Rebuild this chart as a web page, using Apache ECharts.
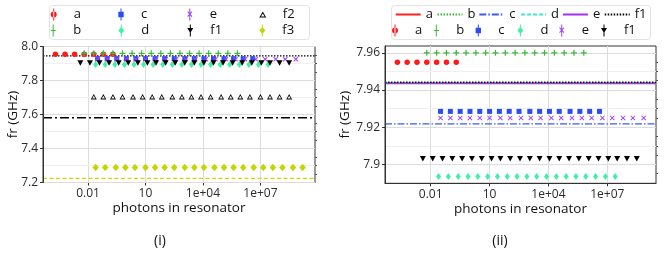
<!DOCTYPE html>
<html><head><meta charset="utf-8">
<script src="https://cdn.jsdelivr.net/npm/echarts@6/dist/echarts.min.js"></script>
<style>html,body{margin:0;padding:0;background:#fff}#c{width:664px;height:253px}</style>
</head><body><div id="c"></div><script>
// ---- data (x values are log10 of photons in resonator) ----
const xTickExp = [-2, 1, 4, 7];
const xTickLabels = ['0.01', '10', '1e+04', '1e+07'];
const yTicksL = [7.2, 7.4, 7.6, 7.8, 8.0];
const yTickLabelsL = ['7.2', '7.4', '7.6', '7.8', '8.0'];
const yMinorGridL = [7.3, 7.5, 7.7, 7.9];
const yMinorTicksL = [7.25, 7.3, 7.35, 7.45, 7.5, 7.55, 7.65, 7.7, 7.75, 7.85, 7.9, 7.95];
const yTicksR = [7.90, 7.92, 7.94, 7.96];
const yTickLabelsR = ['7.9', '7.92', '7.94', '7.96'];
const yMinorGridR = [7.91, 7.93, 7.95];
const yMinorTicksR = [7.895, 7.905, 7.91, 7.915, 7.925, 7.93, 7.935, 7.945, 7.95, 7.955];

const aX = [-3.7, -3.2, -2.7, -2.2, -1.7, -1.2, -0.7];
const aY = [7.955, 7.955, 7.955, 7.955, 7.955, 7.955, 7.955];
const bX = [-2.2, -1.7, -1.2, -0.7, -0.2, 0.3, 0.8, 1.3, 1.8, 2.3, 2.8, 3.3, 3.8, 4.3, 4.8, 5.3, 5.8];
const bY = [7.960, 7.960, 7.960, 7.960, 7.960, 7.960, 7.960, 7.960, 7.960, 7.960, 7.960, 7.960, 7.960, 7.960, 7.960, 7.960, 7.960];
const cX = [-1.5, -1.0, -0.5, 0.0, 0.5, 1.0, 1.5, 2.0, 2.5, 3.05, 3.55, 4.05, 4.55, 5.1, 5.6, 6.1, 6.6];
const cY = [7.9285, 7.9285, 7.9285, 7.9285, 7.9285, 7.9285, 7.9285, 7.9285, 7.9285, 7.9285, 7.9285, 7.9285, 7.9285, 7.9285, 7.9285, 7.9285, 7.9285];
const dX = [-1.6, -1.1, -0.6, -0.1, 0.4, 0.9, 1.4, 1.9, 2.4, 2.9, 3.4, 3.9, 4.4, 4.9, 5.4, 5.9, 6.4, 6.9, 7.4];
const dY = [7.8935, 7.8935, 7.8935, 7.8935, 7.8935, 7.8935, 7.8935, 7.8935, 7.8935, 7.8935, 7.8935, 7.8935, 7.8935, 7.8935, 7.8935, 7.8935, 7.8935, 7.8935, 7.8935];
const eX = [-1.5, -1.0, -0.5, 0.0, 0.5, 1.0, 1.55, 2.05, 2.6, 3.1, 3.6, 4.15, 4.65, 5.2, 5.7, 6.2, 6.75, 7.25, 7.8, 8.3, 8.85];
const eY = [7.925, 7.925, 7.925, 7.925, 7.925, 7.925, 7.925, 7.925, 7.925, 7.925, 7.925, 7.925, 7.925, 7.925, 7.925, 7.925, 7.925, 7.925, 7.925, 7.925, 7.925];
const f1X = [-2.4, -1.9, -1.4, -0.9, -0.4, 0.1, 0.6, 1.1, 1.55, 2.05, 2.55, 3.05, 3.55, 4.05, 4.55, 5.05, 5.55, 6.05, 6.55, 7.05, 7.5, 8.0, 8.5];
const f1Y = [7.903, 7.903, 7.903, 7.903, 7.903, 7.903, 7.903, 7.903, 7.903, 7.903, 7.903, 7.903, 7.903, 7.903, 7.903, 7.903, 7.903, 7.903, 7.903, 7.903, 7.903, 7.903, 7.903];
const f2X = [-1.7, -1.2, -0.7, -0.2, 0.35, 0.85, 1.35, 1.85, 2.4, 2.9, 3.4, 3.9, 4.4, 4.95, 5.45, 5.95, 6.45, 7.0, 7.5, 8.0, 8.5];
const f2Y = [7.705, 7.705, 7.705, 7.705, 7.705, 7.705, 7.705, 7.705, 7.705, 7.705, 7.705, 7.705, 7.705, 7.705, 7.705, 7.705, 7.705, 7.705, 7.705, 7.705, 7.705];
const f3X = [-1.6, -1.1, -0.55, -0.05, 0.45, 1.0, 1.5, 2.0, 2.5, 3.05, 3.55, 4.05, 4.6, 5.1, 5.6, 6.1, 6.65, 7.15, 7.65, 8.15, 8.7, 9.2];
const f3Y = [7.288, 7.288, 7.288, 7.288, 7.288, 7.288, 7.288, 7.288, 7.288, 7.288, 7.288, 7.288, 7.288, 7.288, 7.288, 7.288, 7.288, 7.288, 7.288, 7.288, 7.288, 7.288];

// fitted resonance lines
const lineNamesR = ['a', 'b', 'c', 'd', 'e', 'f1'];
const lineValuesR = [7.9438, 7.9443, 7.9218, 7.9440, 7.9435, 7.9441];
const lineNamesL = ['f1', 'f2', 'f3'];
const lineValuesL = [7.9445, 7.581, 7.224];

// ---- styles ----
const COL = { a: '#ff1a1a', b: '#3cb83c', c: '#2a4cf5', d: '#3ff0a8', e: '#a040f5', f1: '#000000', f2: '#000000', f3: '#c3d600' };
const LCOL = { a: '#ff2020', b: '#3cb83c', c: '#3a5cf0', d: '#40e8c8', e: '#a030f0', f1: '#000000', f2: '#000000', f3: '#c8dc00' };
const LTYPE = { a: 'solid', b: [1.5, 1.5], c: [7, 2, 1.5, 2], d: [4, 2], e: 'solid', f1: [1.5, 1.5], f2: [9, 3, 2, 3], f3: [4, 2.5] };
const SYM = {
  a: ['circle', 5.5],
  b: ['path://M2,0H3V5H2Z M0,2H5V3H0Z', 6],
  c: ['rect', 5],
  d: ['diamond', [5, 7]],
  e: ['path://M0,0.7L0.7,0L5,4.3L4.3,5Z M4.3,0L5,0.7L0.7,5L0,4.3Z', 5],
  f1: ['path://M0,0H6L3,6Z', [6, 5.5]],
  f2: ['path://M3,0L6,5.2L0,5.2Z M3,1.7L1.4,4.4L4.6,4.4Z', [6, 5.5]],
  f3: ['diamond', [6.5, 7.5]]
};
const BAR = 'M2.5,0H3.5V12H2.5Z ';
const ICON = {
  a: 'path://' + BAR + 'M0,6A3,3,0,1,0,6,6A3,3,0,1,0,0,6Z',
  b: 'path://' + BAR + 'M0.5,5.5H5.5V6.5H0.5Z',
  c: 'path://' + BAR + 'M0.3,3.3H5.7V8.7H0.3Z',
  d: 'path://' + BAR + 'M3,2.5L6,6L3,9.5L0,6Z',
  e: 'path://' + BAR + 'M0.5,3.5L1.2,2.8L5.5,7.8L4.8,8.5Z M4.8,2.8L5.5,3.5L1.2,8.5L0.5,7.8Z',
  f1: 'path://' + BAR + 'M0,3.5H6L3,8.5Z',
  f2: 'path://M3,0L6,5.2L0,5.2Z M3,1.7L1.4,4.4L4.6,4.4Z',
  f3: 'path://' + BAR + 'M3,2.5L6,6L3,9.5L0,6Z'
};

const XL = [-4.35, 9.85], XR = [-4.33, 9.48];
const YL = [7.2, 8.0], YR = [7.8898, 7.9637];
const FONT = 'Open Sans';
const TXT = '#2b2b2b';

function pts(xs, ys) { return xs.map((x, i) => [x, ys[i]]); }
const PTS = { a: pts(aX, aY), b: pts(bX, bY), c: pts(cX, cY), d: pts(dX, dY), e: pts(eX, eY), f1: pts(f1X, f1Y), f2: pts(f2X, f2Y), f3: pts(f3X, f3Y) };

function xAxis(gi, ext) {
  return {
    gridIndex: gi, type: 'value', min: ext[0], max: ext[1],
    axisLine: { show: true, onZero: false, lineStyle: { color: '#333', width: 1 } },
    axisTick: { show: true, customValues: xTickExp, length: 3, lineStyle: { color: '#333' } },
    axisLabel: { customValues: xTickExp, formatter: v => xTickLabels[xTickExp.indexOf(Math.round(v))] || '', color: TXT, fontFamily: FONT, fontSize: 12, margin: 5 },
    splitLine: { show: true, lineStyle: { color: '#dcdcdc', width: 1 } },
    name: 'photons in resonator', nameLocation: 'middle', nameGap: 19, nameMoveOverlap: false,
    nameTextStyle: { color: '#111', fontFamily: FONT, fontSize: 13.5 }
  };
}
function yAxis(gi, ext, ticks, labels, gap) {
  return {
    gridIndex: gi, type: 'value', min: ext[0], max: ext[1], z: 3,
    axisLine: { show: true, onZero: false, lineStyle: { color: '#333', width: 1 } },
    axisTick: { show: true, customValues: ticks, length: 3, lineStyle: { color: '#333' } },
    axisLabel: { customValues: ticks, formatter: v => { let i = ticks.findIndex(t => Math.abs(t - v) < 1e-6); return i >= 0 ? labels[i] : ''; }, color: TXT, fontFamily: FONT, fontSize: 12, margin: 5 },
    splitLine: { show: true, lineStyle: { color: '#dcdcdc', width: 1 } },
    name: 'fr (GHz)', nameLocation: 'middle', nameGap: gap, nameMoveOverlap: false,
    nameTextStyle: { color: '#111', fontFamily: FONT, fontSize: 13.5 }
  };
}
function yMinorGrid(gi, ext, vals) {
  return { gridIndex: gi, type: 'value', min: ext[0], max: ext[1], z: 1,
    axisLine: { show: false, onZero: false }, axisLabel: { show: false },
    axisTick: { show: false, customValues: vals }, splitLine: { show: true, lineStyle: { color: '#f0f0f0', width: 1 } } };
}
function yMinorTicks(gi, ext, vals) {
  return { gridIndex: gi, type: 'value', min: ext[0], max: ext[1], z: 3,
    axisLine: { show: false, onZero: false }, axisLabel: { show: false },
    axisTick: { show: true, customValues: vals, length: 2, lineStyle: { color: '#555' } }, splitLine: { show: false } };
}

const series = [];
// left panel lines
lineNamesL.forEach((n, i) => {
  series.push({ name: n + '_l', type: 'line', xAxisIndex: 0, yAxisIndex: 0, symbol: 'none', silent: true,
    data: [[XL[0], lineValuesL[i]], [XL[1], lineValuesL[i]]],
    lineStyle: { color: LCOL[n], width: 1.3, type: LTYPE[n] }, itemStyle: { color: LCOL[n] }, z: 2 });
});
// right panel lines
lineNamesR.forEach((n, i) => {
  series.push({ name: n + '_l', type: 'line', xAxisIndex: 1, yAxisIndex: 1, symbol: 'none', silent: true,
    data: [[XR[0], lineValuesR[i]], [XR[1], lineValuesR[i]]],
    lineStyle: { color: LCOL[n], width: 1.3, type: LTYPE[n] }, itemStyle: { color: LCOL[n] }, z: 2 });
});
// points
['a', 'b', 'c', 'd', 'e', 'f1', 'f2', 'f3'].forEach(n => {
  series.push({ name: n, type: 'scatter', xAxisIndex: 0, yAxisIndex: 0, data: PTS[n],
    symbol: SYM[n][0], symbolSize: SYM[n][1], itemStyle: { color: COL[n], opacity: 1 }, z: 3, silent: true });
});
['a', 'b', 'c', 'd', 'e', 'f1'].forEach(n => {
  series.push({ name: n, type: 'scatter', xAxisIndex: 1, yAxisIndex: 1, data: PTS[n],
    symbol: SYM[n][0], symbolSize: SYM[n][1], itemStyle: { color: COL[n], opacity: 1 }, z: 3, silent: true });
});

// legends
const legends = [];
function leg(name, icon, left, cy, W, H, isLine) {
  const d = { name: name };
  if (icon) d.icon = icon;
  if (isLine) d.itemStyle = { opacity: 0 };
  legends.push({ data: [d], left: left, top: cy - 7, itemWidth: W, itemHeight: H, padding: 0, itemGap: 0,
    selectedMode: false, formatter: s => s.replace('_l', ''),
    textStyle: { color: '#111', fontFamily: FONT, fontSize: 13, lineHeight: 14, padding: 0 } });
}
const leftLegCols = [65.7, 133.3, 202.3, 274.3];
const leftLegOrder = [['a', 'b'], ['c', 'd'], ['e', 'f1'], ['f2', 'f3']];
const rowY = [14.5, 30.5];
leftLegOrder.forEach((col, ci) => col.forEach((n, ri) => {
  leg(n, ICON[n], leftLegCols[ci] - 15, rowY[ri], 30, n === 'f2' ? 6 : 12, false);
}));
const rightLineStart = [394.7, 436.5, 478.3, 520.1, 561.9, 603.7];
const rightIconCx = [407, 448.8, 490.6, 532.4, 574.2, 616];
lineNamesR.forEach((n, i) => {
  leg(n + '_l', null, rightLineStart[i], rowY[0], 25, 14, true);
  leg(n, ICON[n], rightIconCx[i] - 15, rowY[1], 30, 12, false);
});

const option = {
  animation: false,
  backgroundColor: '#ffffff',
  grid: [
    { left: 43, top: 46.5, width: 272, height: 136, show: true, borderColor: '#333', borderWidth: 1, backgroundColor: '#fff' },
    { left: 385, top: 46, width: 271, height: 137.3, show: true, borderColor: '#333', borderWidth: 1, backgroundColor: '#fff' }
  ],
  xAxis: [xAxis(0, XL), xAxis(1, XR)],
  yAxis: [yAxis(0, YL, yTicksL, yTickLabelsL, 23), yAxis(1, YR, yTicksR, yTickLabelsR, 33),
          yMinorGrid(0, YL, yMinorGridL), yMinorGrid(1, YR, yMinorGridR),
          yMinorTicks(0, YL, yMinorTicksL), yMinorTicks(1, YR, yMinorTicksR)],
  legend: legends,
  graphic: [
    { type: 'rect', shape: { x: 49.5, y: 5.5, width: 260, height: 34, r: 3 }, style: { fill: 'none', stroke: '#e3e3e3', lineWidth: 1 }, z: -1 },
    { type: 'rect', shape: { x: 391.5, y: 5.5, width: 259, height: 34, r: 3 }, style: { fill: 'none', stroke: '#e3e3e3', lineWidth: 1 }, z: -1 },
    { type: 'text', style: { text: '(i)', x: 160, y: 241, align: 'center', verticalAlign: 'middle', font: '14px "Open Sans"', fill: '#111' } },
    { type: 'text', style: { text: '(ii)', x: 500, y: 241, align: 'center', verticalAlign: 'middle', font: '14px "Open Sans"', fill: '#111' } }
  ],
  series: series
};
const chart = echarts.init(document.getElementById('c'), null, { renderer: 'canvas' });
chart.setOption(option);
</script></body></html>
